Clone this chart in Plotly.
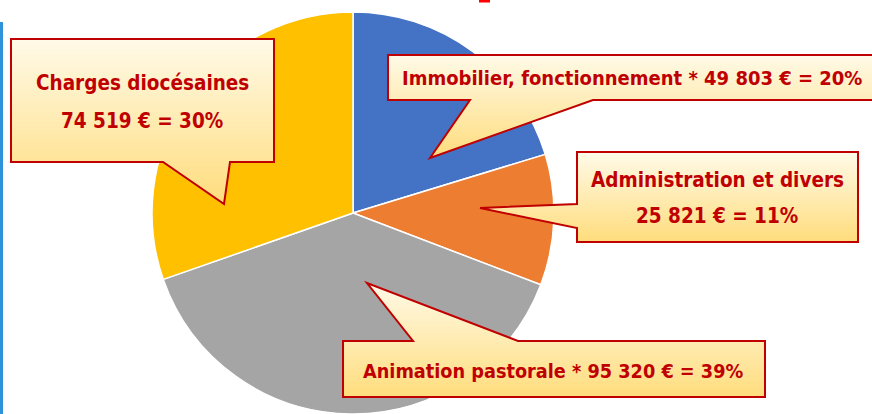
import plotly.graph_objects as go

W, H = 872, 414

# ---- data ----
categories = ["Immobilier, fonctionnement", "Administration et divers",
              "Animation pastorale", "Charges diocésaines"]
amounts = [49803, 25821, 95320, 74519]
percent_labels = ["20%", "11%", "39%", "30%"]
slice_colors = ["#4472C4", "#ED7D31", "#A5A5A5", "#FFC000"]


def euros(v):
    return f"{v:,}".replace(",", " ") + " €"


RED = "#C00000"
FONT = "DejaVu Sans Condensed, Liberation Sans Narrow, Roboto Condensed, DejaVu Sans"


def px(x):
    return x / W


def py(y):
    return 1 - y / H


fig = go.Figure()
fig.add_trace(go.Pie(
    labels=categories, values=amounts, sort=False, direction="clockwise",
    rotation=0, textinfo="none", hoverinfo="skip", showlegend=False,
    marker=dict(colors=slice_colors, line=dict(color="white", width=1.5)),
    domain=dict(x=[151 / W, 555 / W], y=[0, 0.971]),
))

shapes = []
annotations = []


def clip_band(poly, ya, yb):
    def clip(points, inside, inter):
        out = []
        n = len(points)
        for i in range(n):
            cur = points[i]
            prev = points[i - 1]
            if inside(cur):
                if not inside(prev):
                    out.append(inter(prev, cur))
                out.append(cur)
            elif inside(prev):
                out.append(inter(prev, cur))
        return out

    def inter_y(y0):
        def f(p, q):
            t = (y0 - p[1]) / (q[1] - p[1])
            return (p[0] + t * (q[0] - p[0]), y0)
        return f

    pts = clip(poly, lambda p: p[1] >= ya, inter_y(ya))
    if not pts:
        return []
    pts = clip(pts, lambda p: p[1] <= yb, inter_y(yb))
    return pts


def lerp(c0, c1, t):
    return "rgb(%d,%d,%d)" % tuple(round(a + (b - a) * t) for a, b in zip(c0, c1))


TOP = (255, 250, 232)
BOT = (255, 221, 125)


def to_path(points):
    return "M " + " L ".join(f"{px(x):.5f},{py(y):.5f}" for x, y in points) + " Z"


def callout(poly):
    ys = [p[1] for p in poly]
    y0, y1 = min(ys), max(ys)
    step = 2.5
    y = y0
    while y < y1:
        yb = min(y + step + 0.8, y1)
        pts = clip_band(poly, y, yb)
        if len(pts) >= 3:
            t = ((y + step / 2) - y0) / (y1 - y0)
            shapes.append(dict(type="path", xref="paper", yref="paper",
                               path=to_path(pts), fillcolor=lerp(TOP, BOT, min(t, 1)),
                               line=dict(width=0), layer="above"))
        y += step
    shapes.append(dict(type="path", xref="paper", yref="paper", path=to_path(poly),
                       fillcolor="rgba(0,0,0,0)", line=dict(color=RED, width=2),
                       layer="above"))


def label(text, x, y, size=20.5):
    annotations.append(dict(text=f"<b>{text}</b>", x=px(x), y=py(y), xref="paper",
                            yref="paper", xanchor="center", yanchor="middle",
                            showarrow=False,
                            font=dict(family=FONT, size=size, color=RED)))


# callout boxes (pixel geometry)
callout([(388, 55), (876, 55), (876, 100), (593, 100), (430, 158), (470, 100), (388, 100)])
callout([(577, 152), (858, 152), (858, 242), (577, 242), (577, 228), (480, 208), (577, 204)])
callout([(343, 341), (413, 341), (367, 283), (518, 341), (765, 341), (765, 397), (343, 397)])
callout([(11, 39), (274, 39), (274, 162), (230, 162), (224, 204), (163, 162), (11, 162)])

label(f"{categories[0]} * {euros(amounts[0])} = {percent_labels[0]}", 632, 78, 20)
label(categories[1], 717, 180)
label(f"{euros(amounts[1])} = {percent_labels[1]}", 717, 216)
label(f"{categories[2]} * {euros(amounts[2])} = {percent_labels[2]}", 553, 371, 19.7)
label(categories[3], 142, 83)
label(f"{euros(amounts[3])} = {percent_labels[3]}", 142, 121)

# decorations: left blue rule and top red fragment
shapes.append(dict(type="rect", xref="paper", yref="paper", x0=0, x1=px(3),
                   y0=0, y1=py(22), fillcolor="#2E93DA", line=dict(width=0), layer="above"))
shapes.append(dict(type="rect", xref="paper", yref="paper", x0=px(479), x1=px(490),
                   y0=py(2.5), y1=1, fillcolor="#FF0000", line=dict(width=0), layer="above"))

fig.update_layout(width=W, height=H, margin=dict(l=0, r=0, t=0, b=0),
                  paper_bgcolor="white", plot_bgcolor="white",
                  shapes=shapes, annotations=annotations)
fig.write_html("out.html", config={"displayModeBar": False},
               post_script="document.body.style.margin='0';document.body.style.overflow='hidden';")
